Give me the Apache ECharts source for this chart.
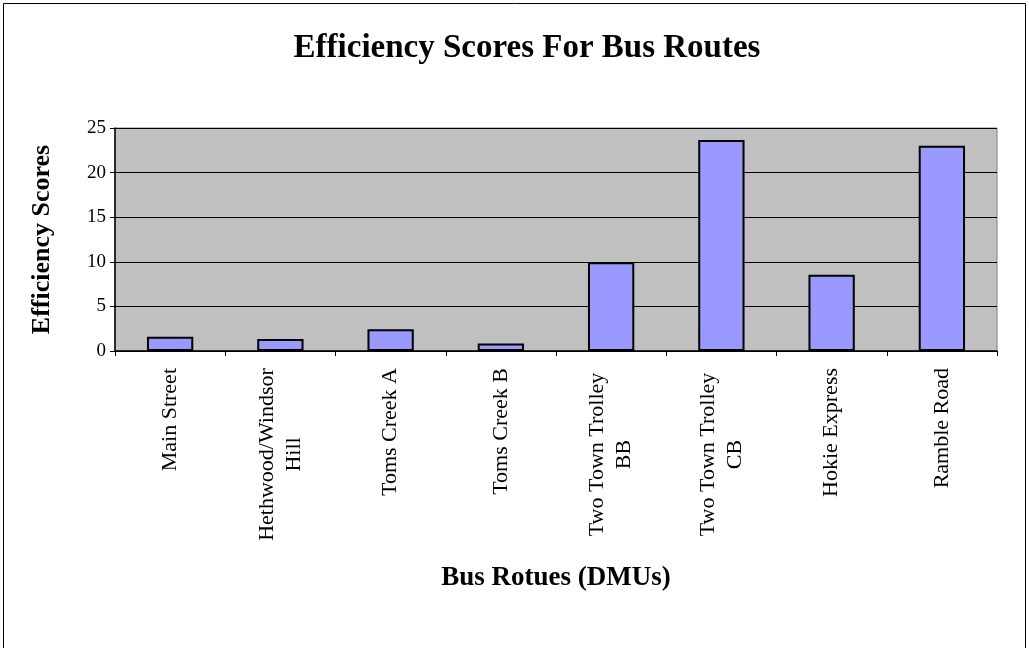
<!DOCTYPE html>
<html>
<head>
<meta charset="utf-8">
<title>Efficiency Scores For Bus Routes</title>
<script src="https://cdn.jsdelivr.net/npm/echarts@6/dist/echarts.min.js"></script>
<style>
  html, body { margin: 0; padding: 0; background: #fff; }
  #chart { width: 1029px; height: 648px; }
</style>
</head>
<body>
<div id="chart"></div>
<script>
// data
const routes = [
  'Main Street',
  'Hethwood/Windsor\nHill',
  'Toms Creek A',
  'Toms Creek B',
  'Two Town Trolley\nBB',
  'Two Town Trolley\nCB',
  'Hokie Express',
  'Ramble Road'
]
const scores = [1.6, 1.35, 2.45, 0.85, 9.95, 23.65, 8.55, 23.0]
const yTicks = [0, 5, 10, 15, 20, 25]

const serif = '"Liberation Serif", "Times New Roman", serif'
const labelSize = 22

// two-line labels: centre the lines on each other, keep the block against the axis
const ctx = document.createElement('canvas').getContext('2d')
ctx.font = labelSize + 'px ' + serif
const longest = Math.ceil(Math.max(...routes.map(r => ctx.measureText(r.split('\n')[0]).width)))

function labelFormatter(value) {
  const lines = value.split('\n')
  if (lines.length < 2) return value
  return lines.map(l => '{c|' + l + '}').join('\n')
}

const chart = echarts.init(document.getElementById('chart'))

chart.setOption({
  backgroundColor: '#fff',
  animation: false,
  title: {
    text: 'Efficiency Scores For Bus Routes',
    left: 522,
    textAlign: 'center',
    top: 27,
    textStyle: {
      fontFamily: serif,
      fontSize: 33,
      fontWeight: 'bold',
      color: '#000'
    }
  },
  graphic: [
    {
      type: 'rect',
      shape: { x: 3.5, y: 3.5, width: 1022, height: 700 },
      style: { fill: 'none', stroke: '#000', lineWidth: 1 },
      silent: true
    }
  ],
  grid: {
    left: 115,
    right: 32,
    top: 128,
    bottom: 297,
    show: true,
    backgroundColor: '#C0C0C0',
    borderColor: '#808080',
    borderWidth: 1,
    containLabel: false,
    outerBoundsMode: 'none'
  },
  xAxis: {
    type: 'category',
    data: routes,
    name: 'Bus Rotues (DMUs)',
    nameLocation: 'middle',
    nameGap: 214,
    nameTextStyle: {
      fontFamily: serif,
      fontSize: 27,
      fontWeight: 'bold',
      color: '#000'
    },
    axisLine: { lineStyle: { color: '#000', width: 1.5 } },
    axisTick: { show: true, length: 5, lineStyle: { color: '#000' } },
    axisLabel: {
      rotate: 90,
      interval: 0,
      margin: 17,
      fontFamily: serif,
      fontSize: labelSize,
      lineHeight: 27,
      color: '#000',
      formatter: labelFormatter,
      rich: {
        c: {
          fontFamily: serif,
          fontSize: labelSize,
          lineHeight: 27,
          color: '#000',
          width: longest,
          align: 'center'
        }
      }
    }
  },
  yAxis: {
    type: 'value',
    min: yTicks[0],
    max: yTicks[yTicks.length - 1],
    interval: yTicks[1] - yTicks[0],
    name: 'Efficiency Scores',
    nameLocation: 'middle',
    nameRotate: 90,
    nameGap: 60,
    nameTextStyle: {
      fontFamily: serif,
      fontSize: 26,
      fontWeight: 'bold',
      color: '#000'
    },
    axisLine: { show: true, lineStyle: { color: '#000', width: 1.5 } },
    axisTick: { show: true, length: 5, lineStyle: { color: '#000' } },
    axisLabel: {
      margin: 9,
      fontFamily: serif,
      fontSize: 19,
      color: '#000'
    },
    splitLine: { lineStyle: { color: '#000', width: 1 } }
  },
  series: [
    {
      name: 'Efficiency Scores',
      type: 'bar',
      data: scores,
      barWidth: '42%',
      itemStyle: {
        color: '#9999FF',
        borderColor: '#000',
        borderWidth: 2
      }
    }
  ]
})
</script>
</body>
</html>
